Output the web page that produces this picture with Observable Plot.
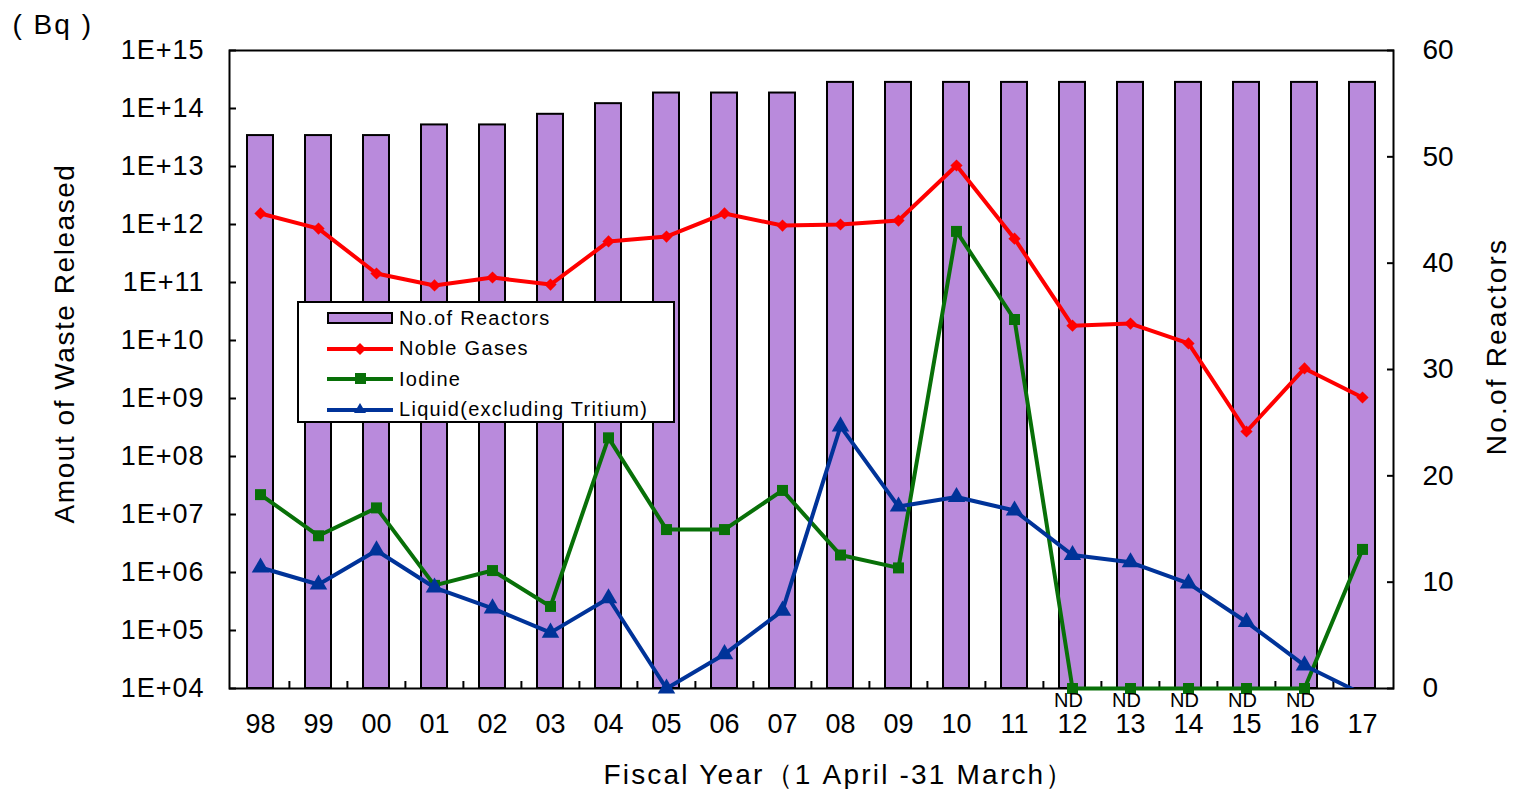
<!DOCTYPE html>
<html><head><meta charset="utf-8">
<script src="https://cdn.jsdelivr.net/npm/d3@7"></script>
<script src="https://cdn.jsdelivr.net/npm/@observablehq/plot@0.6"></script>
<style>
body{margin:0;background:#fff;}
#wrap{position:relative;width:1517px;height:789px;font-family:"Liberation Sans",Arial,sans-serif;color:#000;}
#wrap > svg{position:absolute;left:0;top:0;}
#legend{position:absolute;left:297px;top:301px;width:374px;height:118px;border:2px solid #000;background:#fff;box-sizing:content-box;}
.row{display:flex;align-items:center;height:30.5px;padding-left:28px;}
.row span{margin-left:6px;font-size:20px;letter-spacing:1.3px;white-space:nowrap;}
</style></head><body><div id="wrap"></div>
<script>
// ---- data ----
const years = ["98","99","00","01","02","03","04","05","06","07","08","09","10","11","12","13","14","15","16","17"];
const reactors = [52,52,52,53,53,54,55,56,56,56,57,57,57,57,57,57,57,57,57,57];
const nobleGases = [1.55e12,8.5e11,1.43e11,8.9e10,1.22e11,9.2e10,5.1e11,6.2e11,1.55e12,9.6e11,1.0e12,1.17e12,1.04e13,5.7e11,1.8e10,1.96e10,8.9e9,2.7e8,3.3e9,1.04e9];
const iodine = [2.2e7,4.3e6,1.3e7,6.0e5,1.08e6,2.6e5,2.1e8,5.5e6,5.5e6,2.6e7,2.0e6,1.2e6,7.6e11,2.3e10,"ND","ND","ND","ND","ND",2.5e6];
const liquid = [1.22e6,6.2e5,2.4e6,5.5e5,2.4e5,9.2e4,3.6e5,1.0e4,3.9e4,2.2e5,3.3e8,1.37e7,2.0e7,1.17e7,2.0e6,1.5e6,6.5e5,1.4e5,2.5e4,8e3];
const leftTicks = [1e4,1e5,1e6,1e7,1e8,1e9,1e10,1e11,1e12,1e13,1e14,1e15];
const rightTicks = [0,10,20,30,40,50,60];
const seriesNames = ["No.of Reactors","Noble Gases","Iodine","Liquid(excluding Tritium)"];
const titleLeft = "Amout of Waste Released";
const titleRight = "No.of Reactors";
const titleX = "Fiscal Year（1 April -31 March）";
const unitLabel = "( Bq )";

// ---- styling ----
const colors = {bar:"#b98adc", noble:"#ff0000", iodine:"#087008", liquid:"#003399"};
const W = 1517, H = 789;
const M = {top:50, right:124, bottom:101, left:229};
const fam = "'Liberation Sans', Arial, sans-serif";
const xScaleOpts = {type:"band", domain:years, paddingInner:0.55, paddingOuter:0.275, align:0.5};
const yMin = leftTicks[0];
const step = (W - M.left - M.right) / years.length;
const frameH = H - M.top - M.bottom;

const barData = years.map((y,i)=>({year:y, n:reactors[i]}));
const toRows = arr => years.map((y,i)=>({year:y, v:arr[i]==="ND"? yMin : arr[i], nd: arr[i]==="ND"}));
const nobleData = toRows(nobleGases);
const iodineData = toRows(iodine);
const liquidData = toRows(liquid);

const common = {width:W, height:H, marginTop:M.top, marginRight:M.right, marginBottom:M.bottom, marginLeft:M.left,
  style:{fontFamily:fam, fontSize:"27px", color:"#000", background:"transparent", overflow:"visible"}};

const plotBars = Plot.plot({
  ...common,
  x: xScaleOpts,
  y: {domain:[0,60]},
  marks: [
    Plot.barY(barData, {x:"year", y:"n", fill:colors.bar, stroke:"#000", strokeWidth:2}),
    Plot.axisY({anchor:"right", ticks:rightTicks, tickSize:-7, tickPadding:36, strokeWidth:2, label:null, fontSize:28}),
    Plot.axisX({tickSize:0, tickPadding:25, label:null, fontSize:27}),
    Plot.tickX(years.slice(1), {x:d=>d, dx:-step/2, insetTop:frameH-7, stroke:"#000", strokeWidth:2}),
    Plot.frame({stroke:"#000", strokeWidth:2})
  ]
});

const plotLines = Plot.plot({
  ...common,
  x: {...xScaleOpts, axis:null},
  y: {type:"log", domain:[leftTicks[0], leftTicks[leftTicks.length-1]]},
  marks: [
    Plot.axisY({anchor:"left", ticks:leftTicks, tickFormat:d=>"1E+"+String(Math.round(Math.log10(d))).padStart(2,"0"),
      tickSize:-7, tickPadding:32, strokeWidth:2, label:null, fontSize:27}),
    Plot.line(nobleData, {x:"year", y:"v", stroke:colors.noble, strokeWidth:4}),
    Plot.dot(nobleData, {x:"year", y:"v", symbol:"diamond2", r:5.5, fill:colors.noble}),
    Plot.line(iodineData, {x:"year", y:"v", stroke:colors.iodine, strokeWidth:4}),
    Plot.dot(iodineData, {x:"year", y:"v", symbol:"square", r:6.2, fill:colors.iodine}),
    Plot.line(liquidData, {x:"year", y:"v", stroke:colors.liquid, strokeWidth:4, clip:"frame"}),
    Plot.dot(liquidData.filter(d=>d.v>=yMin), {x:"year", y:"v", symbol:"triangle", r:6.5, fill:colors.liquid}),
    Plot.text(iodineData.filter(d=>d.nd), {x:"year", y:"v", text:()=> "ND", dy:12, dx:-4, fontSize:20, lineAnchor:"middle"}),
    Plot.text([titleLeft], {frameAnchor:"left", textAnchor:"middle", lineAnchor:"middle", dx:-164, dy:-26, rotate:-90, fontSize:28}),
    Plot.text([titleRight], {frameAnchor:"right", textAnchor:"middle", lineAnchor:"middle", dx:104, dy:-23, rotate:-90, fontSize:28}),
    Plot.text([titleX], {frameAnchor:"bottom", textAnchor:"middle", lineAnchor:"middle", dx:28, dy:87, fontSize:28}),
    Plot.text([unitLabel], {frameAnchor:"top-left", textAnchor:"start", lineAnchor:"middle", dx:-217, dy:-25, fontSize:28})
  ]
});

// letter spacing (Plot text marks do not expose it)
const spacing = {[titleLeft]:"1.55px", [titleRight]:"2.2px", [titleX]:"2.2px", [unitLabel]:"2px"};
plotLines.querySelectorAll("text").forEach(t => {
  if (spacing[t.textContent]) t.setAttribute("letter-spacing", spacing[t.textContent]);
  else if (t.textContent.startsWith("1E+")) t.setAttribute("letter-spacing", "1px");
});

const wrap = document.getElementById("wrap");
wrap.appendChild(plotBars);
wrap.appendChild(plotLines);

// legend
const legend = document.createElement("div");
legend.id = "legend";
const sw = [
  `<rect x="1" y="10" width="64" height="10" fill="${colors.bar}" stroke="#000" stroke-width="2"/>`,
  `<line x1="0" x2="66" y1="15" y2="15" stroke="${colors.noble}" stroke-width="4"/><path d="M33,9L39,15L33,21L27,15Z" fill="${colors.noble}"/>`,
  `<line x1="0" x2="66" y1="15" y2="15" stroke="${colors.iodine}" stroke-width="4"/><rect x="28" y="9" width="11" height="11" fill="${colors.iodine}"/>`,
  `<line x1="0" x2="66" y1="15" y2="15" stroke="${colors.liquid}" stroke-width="4"/><path d="M33,8L39,18L27,18Z" fill="${colors.liquid}"/>`
];
legend.innerHTML = seriesNames.map((n,i)=>`<div class="row"><svg width="66" height="30">${sw[i]}</svg><span>${n}</span></div>`).join("");
wrap.appendChild(legend);
</script></body></html>
